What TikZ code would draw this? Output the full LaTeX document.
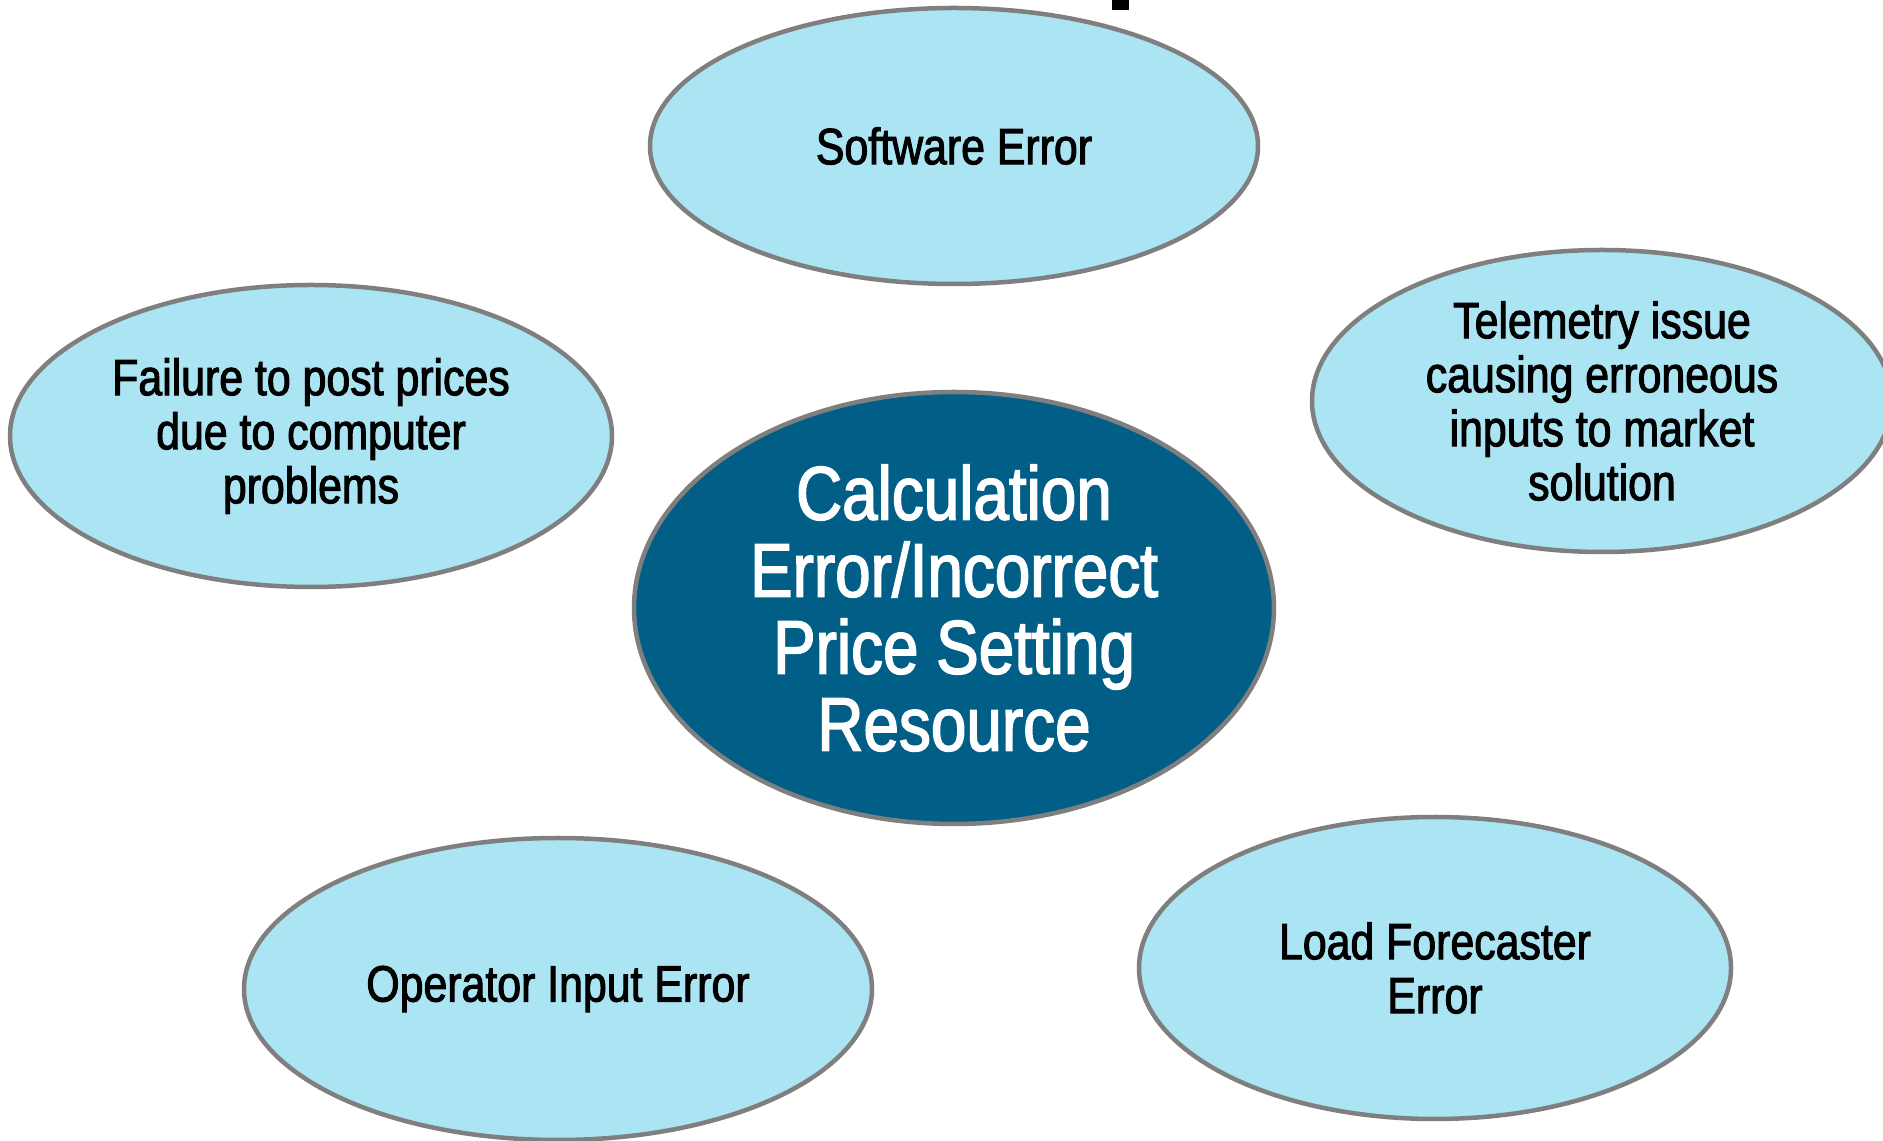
\documentclass[tikz,border=0pt]{standalone}
\usepackage{fontspec}
\setmainfont{Liberation Sans}[FakeStretch=0.84,FakeBold=2]
\usetikzlibrary{shapes.geometric}
\definecolor{lightfill}{HTML}{ABE4F3}
\definecolor{darkfill}{HTML}{005E87}
\definecolor{edgegray}{HTML}{7F7F7F}
\tikzset{
  bubble/.style={ellipse, draw=edgegray, line width=4.5pt, fill=lightfill, inner sep=0pt,
    align=center, text=black, font=\fontsize{51}{54}\selectfont},
  hub/.style={ellipse, draw=edgegray, line width=4.5pt, fill=darkfill, inner sep=0pt,
    align=center, text=white, font=\fontsize{76}{77}\selectfont}
}
\begin{document}
\begin{tikzpicture}[x=1pt,y=1pt]
\useasboundingbox (0,0) rectangle (1883,1141);
\fill[white] (0,0) rectangle (1883,1141);
\fill[black] (1112,1131) rectangle (1129,1141);
\node[bubble, minimum width=608pt, minimum height=276pt] (sw) at (954,995) {Software Error};
\node[bubble, minimum width=602pt, minimum height=302pt] (fail) at (311,705) {Failure to post prices\\due to computer\\problems};
\node[bubble, minimum width=580pt, minimum height=302pt] (tel) at (1602,740) {Telemetry issue\\causing erroneous\\inputs to market\\solution};
\node[hub, minimum width=640pt, minimum height=432pt] (calc) at (954,533) {Calculation\\Error/Incorrect\\Price Setting\\Resource};
\node[bubble, minimum width=628pt, minimum height=302pt] (op) at (558,152) {Operator Input Error};
\node[bubble, minimum width=592pt, minimum height=302pt] (load) at (1435,173) {Load Forecaster\\Error};
\end{tikzpicture}
\end{document}
